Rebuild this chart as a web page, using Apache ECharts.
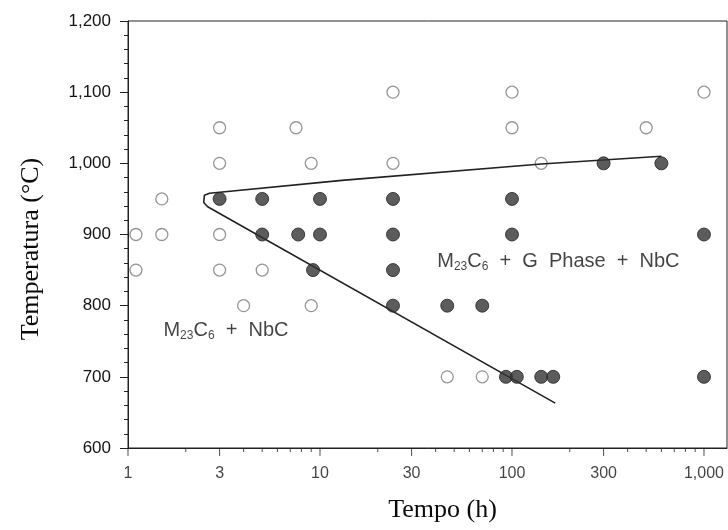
<!DOCTYPE html>
<html><head><meta charset="utf-8">
<script src="https://cdn.jsdelivr.net/npm/echarts@6/dist/echarts.min.js"></script>
<style>html,body{margin:0;padding:0;background:#fff}#chart{width:728px;height:530px}</style>
</head><body><div id="chart"></div>
<script>
// Data (time in hours, temperature in °C)
const openPoints = [
  [1.1, 900], [1.1, 850], [1.5, 950], [1.5, 900],
  [3, 1050], [3, 1000], [3, 900], [3, 850],
  [4, 800], [5, 850],
  [7.5, 1050], [9, 1000], [9, 800],
  [24, 1100], [24, 1000],
  [46, 700], [70, 700],
  [100, 1100], [100, 1050],
  [142, 1000],
  [500, 1050],
  [1000, 1100]
];
const filledPoints = [
  [3, 950], [5, 950], [5, 900], [7.7, 900],
  [10, 950], [10, 900], [9.2, 850],
  [24, 950], [24, 900], [24, 850], [24, 800],
  [46, 800], [70, 800],
  [100, 950], [100, 900],
  [93, 700], [106, 700], [142, 700], [164, 700],
  [300, 1000], [600, 1000],
  [1000, 900], [1000, 700]
];
const boundaryLine = [
  [600, 1010], [142, 999], [13, 976], [2.66, 958],
  [2.5, 955], [2.48, 945], [2.6, 939], [168, 663]
];
const xTickValues = [1, 3, 10, 30, 100, 300, 1000];
const xTickLabels = ['1', '3', '10', '30', '100', '300', '1,000'];
const xMinorTickValues = [2, 4, 5, 6, 7, 8, 9, 20, 40, 50, 60, 70, 80, 90, 200, 400, 500, 600, 700, 800, 900];
const regionTexts = [
  '{n|M}{s|23}{n|C}{s|6}{n|  +  NbC}',
  '{n|M}{s|23}{n|C}{s|6}{n|  +  G  Phase  +  NbC}'
];
const regionAnchors = [[1.53, 765], [40.8, 862]];

const INK = '#222';
const TXT = '#141414';
const SANS = '"Liberation Sans", Arial, Helvetica, sans-serif';
const SERIF = '"Liberation Serif", "Times New Roman", serif';
const fmtComma = v => String(v).replace(/\B(?=(\d{3})+(?!\d))/g, ',');

const chart = echarts.init(document.getElementById('chart'), null, {renderer: 'canvas'});
chart.setOption({
  animation: false,
  backgroundColor: '#fff',
  grid: {left: 128, right: 1, top: 21, bottom: 82, show: true, borderColor: INK, borderWidth: 1, backgroundColor: 'transparent'},
  xAxis: {
    type: 'log', logBase: 10, min: 1, max: 1318,
    axisLine: {show: true, lineStyle: {color: INK, width: 1}},
    axisTick: {show: false}, axisLabel: {show: false}, splitLine: {show: false}, minorTick: {show: false},
    name: 'Tempo (h)', nameLocation: 'middle', nameGap: 49,
    nameTextStyle: {fontFamily: SERIF, fontSize: 26, color: '#0a0a0a', padding: [0, 0, 0, 30]}
  },
  yAxis: {
    type: 'value', min: 600, max: 1200, interval: 100,
    axisLine: {show: true, lineStyle: {color: INK, width: 1}},
    axisTick: {show: true, length: 8, lineStyle: {color: INK}},
    minorTick: {show: true, splitNumber: 5, length: 4, lineStyle: {color: INK}},
    splitLine: {show: false},
    axisLabel: {formatter: fmtComma, fontFamily: SANS, fontSize: 17, color: TXT, margin: 17},
    name: 'Temperatura (°C)', nameLocation: 'middle', nameGap: 84,
    nameTextStyle: {fontFamily: SERIF, fontSize: 26, color: '#0a0a0a', padding: [0, 29, 0, 0]}
  },
  series: [
    {
      name: 'open', type: 'scatter', data: openPoints, symbol: 'circle', symbolSize: 12,
      itemStyle: {color: '#fff', borderColor: '#7a7a7a', borderWidth: 1.3}, z: 3
    },
    {
      name: 'boundary', type: 'line', data: boundaryLine, symbol: 'none', smooth: false,
      lineStyle: {color: INK, width: 1.6}, z: 4
    },
    {
      name: 'filled', type: 'scatter', data: filledPoints, symbol: 'circle', symbolSize: 13,
      itemStyle: {color: '#333', borderColor: '#222', borderWidth: 1}, z: 5
    },
    {
      name: 'majorTicks', type: 'scatter', clip: false, silent: true,
      data: xTickValues.map(v => [v, 600]),
      symbol: 'rect', symbolSize: [1, 8], symbolOffset: [0, 4],
      itemStyle: {color: INK}, z: 6
    },
    {
      name: 'minorTicks', type: 'scatter', clip: false, silent: true,
      data: xMinorTickValues.map(v => [v, 600]),
      symbol: 'rect', symbolSize: [1, 4], symbolOffset: [0, 2],
      itemStyle: {color: INK}, z: 6
    },
    {
      name: 'tickLabels', type: 'scatter', clip: false, silent: true,
      data: xTickValues.map(v => [v, 600]), symbolSize: 0,
      label: {show: true, position: 'bottom', distance: 18, formatter: p => xTickLabels[p.dataIndex],
        fontFamily: SANS, fontSize: 16, color: TXT},
      z: 6
    },
    {
      name: 'regions', type: 'scatter', clip: false, silent: true,
      data: regionAnchors, symbolSize: 0,
      label: {show: true, position: 'right', distance: 0, formatter: p => regionTexts[p.dataIndex],
        rich: {
          n: {fontFamily: SANS, fontSize: 20, color: TXT, lineHeight: 22},
          s: {fontFamily: SANS, fontSize: 12, color: TXT, lineHeight: 12, verticalAlign: 'bottom'}
        }},
      z: 7
    }
  ]
});
</script>
</body></html>
